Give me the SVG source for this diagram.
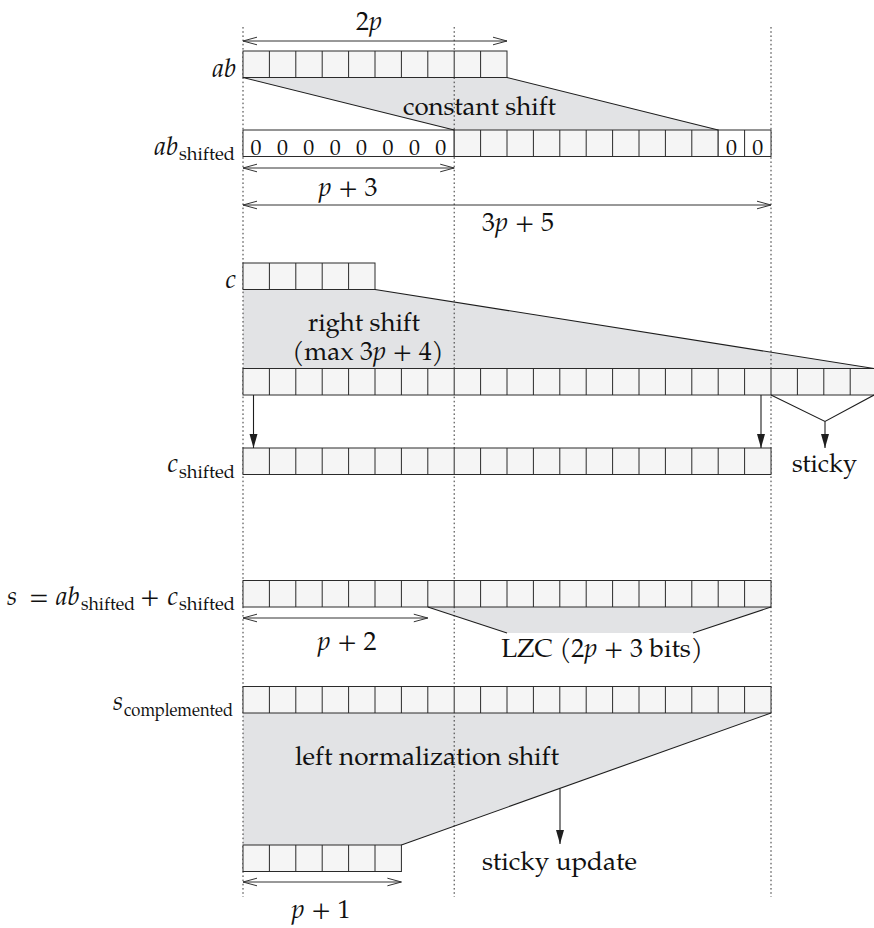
<svg xmlns="http://www.w3.org/2000/svg" width="874" height="928" viewBox="0 0 874 928">
  <style>
    .cell { fill: #f5f5f5; stroke: #2a2a2a; stroke-width: 1; }
    .zero { fill: #ffffff; stroke: #2a2a2a; stroke-width: 1; }
    .div { fill: none; stroke: #2a2a2a; stroke-width: 1; }
    .shade { fill: #e2e3e5; stroke: none; }
    .edge { fill: none; stroke: #1e1e1e; stroke-width: 1.1; }
    .guide { fill: none; stroke: #333; stroke-width: 1; stroke-dasharray: 1.6 2.6; }
    .dim { fill: none; stroke: #333; stroke-width: 1; marker-start: url(#open); marker-end: url(#open); }
    .flow { fill: none; stroke: #1e1e1e; stroke-width: 1.1; marker-end: url(#solid); }
    text { fill: #111; font-family: "P052", "TeX Gyre Pagella", "Palatino Linotype", "Palatino", "URW Palladio L", "Liberation Serif", "Tinos", "Times New Roman", "Nimbus Roman", "DejaVu Serif", "Noto Serif", "FreeSerif", serif; }
    .lbl { font-size: 26px; }
    .m { font-size: 26px; }
    .it { font-style: italic; }
    .sub { font-size: 18px; }
    .z { font-size: 22px; text-anchor: middle; }
  </style>
  <defs>
    <marker id="open" viewBox="-15 -5 16 10" refX="0" refY="0" markerWidth="16" markerHeight="10" markerUnits="userSpaceOnUse" orient="auto-start-reverse">
      <path d="M-14,-3.8 L0,0 L-14,3.8" fill="none" stroke="#333" stroke-width="1"/>
    </marker>
    <marker id="solid" viewBox="-15 -5 16 10" refX="0" refY="0" markerWidth="16" markerHeight="10" markerUnits="userSpaceOnUse" orient="auto">
      <path d="M-14,-4 L0,0 L-14,4 Z" fill="#1e1e1e"/>
    </marker>
  </defs>

  <!-- shaded shifter regions -->
  <g id="shifters">
    <polygon class="shade" points="243,77.5 507,77.5 718.2,130 454.2,130"/>
    <polygon class="shade" points="243,289.5 375,289.5 874,368.5 243,368.5"/>
    <polygon class="shade" points="427.8,607 771,607 693,633 507,633"/>
    <polygon class="shade" points="243,713 771,713 401.4,845 243,845"/>
  </g>

  <!-- vertical alignment guides -->
  <g id="guides">
    <line class="guide" x1="243" y1="27" x2="243" y2="897"/>
    <line class="guide" x1="454.2" y1="27" x2="454.2" y2="897"/>
    <line class="guide" x1="771" y1="27" x2="771" y2="897"/>
  </g>

  <!-- ab: 2p-bit product -->
  <g id="ab">
    <rect class="cell" x="243" y="51" width="264" height="26.5"/>
    <path class="div" d="M269.4 51V77.5M295.8 51V77.5M322.2 51V77.5M348.6 51V77.5M375 51V77.5M401.4 51V77.5M427.8 51V77.5M454.2 51V77.5M480.6 51V77.5"/>
    <text class="m it" x="236" y="77" text-anchor="end">ab</text>
  </g>

  <!-- ab after the constant shift -->
  <g id="ab-shifted">
    <rect class="zero" x="243" y="130" width="211.2" height="26.5"/>
    <rect class="cell" x="454.2" y="130" width="264" height="26.5"/>
    <path class="div" d="M480.6 130V156.5M507 130V156.5M533.4 130V156.5M559.8 130V156.5M586.2 130V156.5M612.6 130V156.5M639 130V156.5M665.4 130V156.5M691.8 130V156.5"/>
    <rect class="zero" x="718.2" y="130" width="52.8" height="26.5"/>
    <path class="div" d="M744.6 130V156.5"/>
    <text class="z" y="154.5"><tspan x="256">0</tspan><tspan x="282.4">0</tspan><tspan x="308.8">0</tspan><tspan x="335.2">0</tspan><tspan x="361.6">0</tspan><tspan x="388">0</tspan><tspan x="414.4">0</tspan><tspan x="440.8">0</tspan><tspan x="731.4">0</tspan><tspan x="757.8">0</tspan></text>
    <text class="m it" x="178" y="155" text-anchor="end">ab</text>
    <text class="sub" x="179" y="160" textLength="56" lengthAdjust="spacingAndGlyphs">shifted</text>
  </g>

  <!-- c: addend -->
  <g id="c">
    <rect class="cell" x="243" y="263" width="132" height="26.5"/>
    <path class="div" d="M269.4 263V289.5M295.8 263V289.5M322.2 263V289.5M348.6 263V289.5"/>
    <text class="m it" x="236" y="288" text-anchor="end">c</text>
  </g>

  <!-- c after the right shift, including sticky bits -->
  <g id="c-wide">
    <rect class="cell" x="243" y="368.5" width="633.6" height="26.5"/>
    <path class="div" d="M269.4 368.5V395M295.8 368.5V395M322.2 368.5V395M348.6 368.5V395M375 368.5V395M401.4 368.5V395M427.8 368.5V395M454.2 368.5V395M480.6 368.5V395M507 368.5V395M533.4 368.5V395M559.8 368.5V395M586.2 368.5V395M612.6 368.5V395M639 368.5V395M665.4 368.5V395M691.8 368.5V395M718.2 368.5V395M744.6 368.5V395M771 368.5V395M797.4 368.5V395M823.8 368.5V395M850.2 368.5V395"/>
  </g>

  <!-- c_shifted -->
  <g id="c-shifted">
    <rect class="cell" x="243" y="448" width="528" height="26.5"/>
    <path class="div" d="M269.4 448V474.5M295.8 448V474.5M322.2 448V474.5M348.6 448V474.5M375 448V474.5M401.4 448V474.5M427.8 448V474.5M454.2 448V474.5M480.6 448V474.5M507 448V474.5M533.4 448V474.5M559.8 448V474.5M586.2 448V474.5M612.6 448V474.5M639 448V474.5M665.4 448V474.5M691.8 448V474.5M718.2 448V474.5M744.6 448V474.5"/>
    <text class="m it" x="178" y="472" text-anchor="end">c</text>
    <text class="sub" x="179" y="478" textLength="56" lengthAdjust="spacingAndGlyphs">shifted</text>
  </g>

  <!-- sum s -->
  <g id="sum">
    <rect class="cell" x="243" y="580.5" width="528" height="26.5"/>
    <path class="div" d="M269.4 580.5V607M295.8 580.5V607M322.2 580.5V607M348.6 580.5V607M375 580.5V607M401.4 580.5V607M427.8 580.5V607M454.2 580.5V607M480.6 580.5V607M507 580.5V607M533.4 580.5V607M559.8 580.5V607M586.2 580.5V607M612.6 580.5V607M639 580.5V607M665.4 580.5V607M691.8 580.5V607M718.2 580.5V607M744.6 580.5V607"/>
    <text class="m it" x="7" y="605">s</text>
    <text class="m" x="29" y="605">=</text>
    <text class="m it" x="56" y="605">ab</text>
    <text class="sub" x="81" y="610" textLength="54" lengthAdjust="spacingAndGlyphs">shifted</text>
    <text class="m" x="140" y="605">+</text>
    <text class="m it" x="178" y="605" text-anchor="end">c</text>
    <text class="sub" x="179" y="610" textLength="56" lengthAdjust="spacingAndGlyphs">shifted</text>
  </g>

  <!-- complemented sum -->
  <g id="sum-complemented">
    <rect class="cell" x="243" y="686.5" width="528" height="26.5"/>
    <path class="div" d="M269.4 686.5V713M295.8 686.5V713M322.2 686.5V713M348.6 686.5V713M375 686.5V713M401.4 686.5V713M427.8 686.5V713M454.2 686.5V713M480.6 686.5V713M507 686.5V713M533.4 686.5V713M559.8 686.5V713M586.2 686.5V713M612.6 686.5V713M639 686.5V713M665.4 686.5V713M691.8 686.5V713M718.2 686.5V713M744.6 686.5V713"/>
    <text class="m it" x="123" y="710" text-anchor="end">s</text>
    <text class="sub" x="124" y="716" textLength="109" lengthAdjust="spacingAndGlyphs">complemented</text>
  </g>

  <!-- normalized result -->
  <g id="normalized">
    <rect class="cell" x="243" y="845" width="158.4" height="26.5"/>
    <path class="div" d="M269.4 845V871.5M295.8 845V871.5M322.2 845V871.5M348.6 845V871.5M375 845V871.5"/>
  </g>

  <!-- annotations -->
  <g id="labels">
    <text class="m" x="369" y="30" text-anchor="middle">2<tspan class="it">p</tspan></text>
    <text class="m" x="348" y="196" text-anchor="middle"><tspan class="it">p</tspan> + 3</text>
    <text class="m" x="518" y="231" text-anchor="middle">3<tspan class="it">p</tspan> + 5</text>
    <text class="lbl" x="403" y="115" textLength="153" lengthAdjust="spacingAndGlyphs">constant shift</text>
    <text class="lbl" x="308" y="331" textLength="112" lengthAdjust="spacingAndGlyphs">right shift</text>
    <text class="lbl" x="368" y="360" text-anchor="middle">(max 3<tspan class="it">p</tspan> + 4)</text>
    <text class="lbl" x="792" y="472" textLength="65" lengthAdjust="spacingAndGlyphs">sticky</text>
    <text class="m" x="347" y="650" text-anchor="middle"><tspan class="it">p</tspan> + 2</text>
    <text class="lbl" x="602" y="657" text-anchor="middle">LZC (2<tspan class="it">p</tspan> + 3 bits)</text>
    <text class="lbl" x="295" y="765" textLength="264" lengthAdjust="spacingAndGlyphs">left normalization shift</text>
    <text class="lbl" x="482" y="870" textLength="155" lengthAdjust="spacingAndGlyphs">sticky update</text>
    <text class="m" x="321" y="918" text-anchor="middle"><tspan class="it">p</tspan> + 1</text>
  </g>

  <!-- shifter outlines, arrows and dimensions -->
  <g id="connectors">
    <line class="edge" x1="243" y1="77.5" x2="454.2" y2="130"/>
    <line class="edge" x1="507" y1="77.5" x2="718.2" y2="130"/>
    <line class="edge" x1="375" y1="289.5" x2="874" y2="368.5"/>
    <polyline class="edge" points="771,395 825,421.5 874,395"/>
    <line class="edge" x1="427.8" y1="607" x2="507" y2="633"/>
    <line class="edge" x1="771" y1="607" x2="693" y2="633"/>
    <line class="edge" x1="771" y1="713" x2="401.4" y2="845"/>

    <line class="flow" x1="253.5" y1="395" x2="253.5" y2="448"/>
    <line class="flow" x1="761" y1="395" x2="761" y2="448"/>
    <line class="flow" x1="825" y1="421.5" x2="825" y2="448"/>
    <line class="flow" x1="560" y1="788.4" x2="560" y2="844"/>

    <line class="dim" x1="243" y1="41" x2="507" y2="41"/>
    <line class="dim" x1="243" y1="168" x2="454.2" y2="168"/>
    <line class="dim" x1="243" y1="205" x2="771" y2="205"/>
    <line class="dim" x1="243" y1="618" x2="427.8" y2="618"/>
    <line class="dim" x1="243" y1="882" x2="401.4" y2="882"/>
  </g>
</svg>
